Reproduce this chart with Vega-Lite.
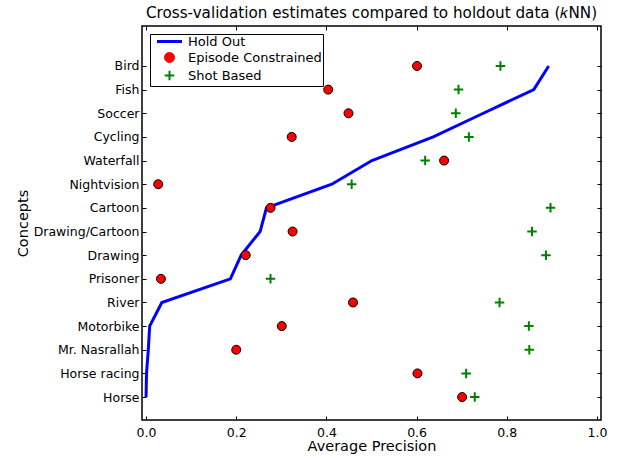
{
  "$schema": "https://vega.github.io/schema/vega-lite/v6.json",
  "width": 459,
  "height": 394,
  "autosize": "none",
  "padding": {"left": 142, "top": 26, "right": 23, "bottom": 40},
  "title": {"text": "Cross-validation estimates compared to holdout data (𝑘NN)", "font": "DejaVu Sans", "fontSize": 15.2, "fontWeight": "normal", "color": "black", "anchor": "middle", "baseline": "alphabetic", "offset": -8},
  "config": {
    "view": {"stroke": "black", "strokeWidth": 1.5},
    "font": "DejaVu Sans",
    "axis": {"domain": false, "grid": false, "tickColor": "black", "tickWidth": 1, "tickSize": -4, "labelFont": "DejaVu Sans", "labelFontSize": 12.5, "labelColor": "black", "titleFont": "DejaVu Sans", "titleFontSize": 14.5, "titleFontWeight": "normal", "titleColor": "black"}
  },
  "data": {"values": [
    {"concept": "Horse", "idx": 0, "series": "Hold Out", "ap": 0.0},
    {"concept": "Horse racing", "idx": 1, "series": "Hold Out", "ap": 0.001},
    {"concept": "Mr. Nasrallah", "idx": 2, "series": "Hold Out", "ap": 0.005},
    {"concept": "Motorbike", "idx": 3, "series": "Hold Out", "ap": 0.008},
    {"concept": "River", "idx": 4, "series": "Hold Out", "ap": 0.035},
    {"concept": "Prisoner", "idx": 5, "series": "Hold Out", "ap": 0.187},
    {"concept": "Drawing", "idx": 6, "series": "Hold Out", "ap": 0.211},
    {"concept": "Drawing/Cartoon", "idx": 7, "series": "Hold Out", "ap": 0.253},
    {"concept": "Cartoon", "idx": 8, "series": "Hold Out", "ap": 0.267},
    {"concept": "Nightvision", "idx": 9, "series": "Hold Out", "ap": 0.412},
    {"concept": "Waterfall", "idx": 10, "series": "Hold Out", "ap": 0.501},
    {"concept": "Cycling", "idx": 11, "series": "Hold Out", "ap": 0.637},
    {"concept": "Soccer", "idx": 12, "series": "Hold Out", "ap": 0.748},
    {"concept": "Fish", "idx": 13, "series": "Hold Out", "ap": 0.86},
    {"concept": "Bird", "idx": 14, "series": "Hold Out", "ap": 0.893},
    {"concept": "Horse", "idx": 0, "series": "Episode Constrained", "ap": 0.701},
    {"concept": "Horse racing", "idx": 1, "series": "Episode Constrained", "ap": 0.602},
    {"concept": "Mr. Nasrallah", "idx": 2, "series": "Episode Constrained", "ap": 0.2},
    {"concept": "Motorbike", "idx": 3, "series": "Episode Constrained", "ap": 0.301},
    {"concept": "River", "idx": 4, "series": "Episode Constrained", "ap": 0.459},
    {"concept": "Prisoner", "idx": 5, "series": "Episode Constrained", "ap": 0.033},
    {"concept": "Drawing", "idx": 6, "series": "Episode Constrained", "ap": 0.221},
    {"concept": "Drawing/Cartoon", "idx": 7, "series": "Episode Constrained", "ap": 0.325},
    {"concept": "Cartoon", "idx": 8, "series": "Episode Constrained", "ap": 0.276},
    {"concept": "Nightvision", "idx": 9, "series": "Episode Constrained", "ap": 0.027},
    {"concept": "Waterfall", "idx": 10, "series": "Episode Constrained", "ap": 0.661},
    {"concept": "Cycling", "idx": 11, "series": "Episode Constrained", "ap": 0.323},
    {"concept": "Soccer", "idx": 12, "series": "Episode Constrained", "ap": 0.449},
    {"concept": "Fish", "idx": 13, "series": "Episode Constrained", "ap": 0.404},
    {"concept": "Bird", "idx": 14, "series": "Episode Constrained", "ap": 0.601},
    {"concept": "Horse", "idx": 0, "series": "Shot Based", "ap": 0.729},
    {"concept": "Horse racing", "idx": 1, "series": "Shot Based", "ap": 0.71},
    {"concept": "Mr. Nasrallah", "idx": 2, "series": "Shot Based", "ap": 0.85},
    {"concept": "Motorbike", "idx": 3, "series": "Shot Based", "ap": 0.849},
    {"concept": "River", "idx": 4, "series": "Shot Based", "ap": 0.784},
    {"concept": "Prisoner", "idx": 5, "series": "Shot Based", "ap": 0.276},
    {"concept": "Drawing", "idx": 6, "series": "Shot Based", "ap": 0.887},
    {"concept": "Drawing/Cartoon", "idx": 7, "series": "Shot Based", "ap": 0.856},
    {"concept": "Cartoon", "idx": 8, "series": "Shot Based", "ap": 0.897},
    {"concept": "Nightvision", "idx": 9, "series": "Shot Based", "ap": 0.456},
    {"concept": "Waterfall", "idx": 10, "series": "Shot Based", "ap": 0.619},
    {"concept": "Cycling", "idx": 11, "series": "Shot Based", "ap": 0.716},
    {"concept": "Soccer", "idx": 12, "series": "Shot Based", "ap": 0.687},
    {"concept": "Fish", "idx": 13, "series": "Shot Based", "ap": 0.693},
    {"concept": "Bird", "idx": 14, "series": "Shot Based", "ap": 0.786}
  ]},
  "layer": [
    {
      "transform": [{"filter": "datum.series === 'Hold Out'"}],
      "mark": {"type": "line", "strokeWidth": 3},
      "encoding": {
        "x": {"field": "ap", "type": "quantitative", "scale": {"domain": [-0.009, 1.009], "nice": false, "zero": false},
              "axis": {"orient": "bottom", "values": [0, 0.2, 0.4, 0.6, 0.8, 1.0], "format": ".1f", "title": "Average Precision", "labelPadding": 10, "titlePadding": 1}},
        "y": {"field": "idx", "type": "quantitative", "scale": {"domain": [-0.97, 15.69], "nice": false, "zero": false},
              "axis": {"orient": "left", "values": [0, 1, 2, 3, 4, 5, 6, 7, 8, 9, 10, 11, 12, 13, 14], "labelExpr": "['Horse','Horse racing','Mr. Nasrallah','Motorbike','River','Prisoner','Drawing','Drawing/Cartoon','Cartoon','Nightvision','Waterfall','Cycling','Soccer','Fish','Bird'][datum.value]", "title": "Concepts", "labelPadding": 7, "titlePadding": 3}},
        "order": {"field": "idx", "type": "quantitative"},
        "color": {"field": "series", "type": "nominal",
                  "scale": {"domain": ["Hold Out", "Episode Constrained", "Shot Based"], "range": ["#0000ff", "#ff0000", "#008000"]},
                  "legend": {"orient": "top-left", "offset": 8, "title": null, "strokeColor": "black", "fillColor": "white", "padding": 1, "cornerRadius": 0,
                             "labelFont": "DejaVu Sans", "labelFontSize": 13, "labelColor": "black", "symbolSize": 100, "rowPadding": 1, "labelOffset": 12, "symbolOffset": 12,
                             "encode": {"symbols": {"update": {
                               "shape": {"signal": "datum.value === 'Hold Out' ? 'M-2.5,0H2.5' : datum.value === 'Episode Constrained' ? 'circle' : 'M-0.95,0H0.95M0,-0.95V0.95'"},
                               "fill": {"signal": "datum.value === 'Episode Constrained' ? '#ff0000' : 'transparent'"},
                               "stroke": {"signal": "datum.value === 'Hold Out' ? '#0000ff' : datum.value === 'Episode Constrained' ? 'black' : '#008000'"},
                               "strokeWidth": {"signal": "datum.value === 'Hold Out' ? 3 : datum.value === 'Episode Constrained' ? 1 : 2"},
                               "opacity": {"value": 1}
                             }}}}}
      }
    },
    {
      "transform": [{"filter": "datum.series === 'Episode Constrained'"}],
      "mark": {"type": "circle", "size": 81, "stroke": "black", "strokeWidth": 1, "opacity": 1},
      "encoding": {
        "x": {"field": "ap", "type": "quantitative", "axis": {"orient": "top", "values": [0, 0.2, 0.4, 0.6, 0.8, 1.0], "labels": false, "title": null}},
        "y": {"field": "idx", "type": "quantitative", "axis": {"orient": "right", "values": [0, 1, 2, 3, 4, 5, 6, 7, 8, 9, 10, 11, 12, 13, 14], "labels": false, "title": null}},
        "color": {"field": "series", "type": "nominal"}
      }
    },
    {
      "transform": [{"filter": "datum.series === 'Shot Based'"}],
      "mark": {"type": "point", "shape": "M-1,0H1M0,-1V1", "size": 90, "strokeWidth": 2, "filled": false, "opacity": 1},
      "encoding": {
        "x": {"field": "ap", "type": "quantitative", "axis": null},
        "y": {"field": "idx", "type": "quantitative", "axis": null},
        "color": {"field": "series", "type": "nominal"}
      }
    }
  ],
  "resolve": {"axis": {"x": "independent", "y": "independent"}}
}
